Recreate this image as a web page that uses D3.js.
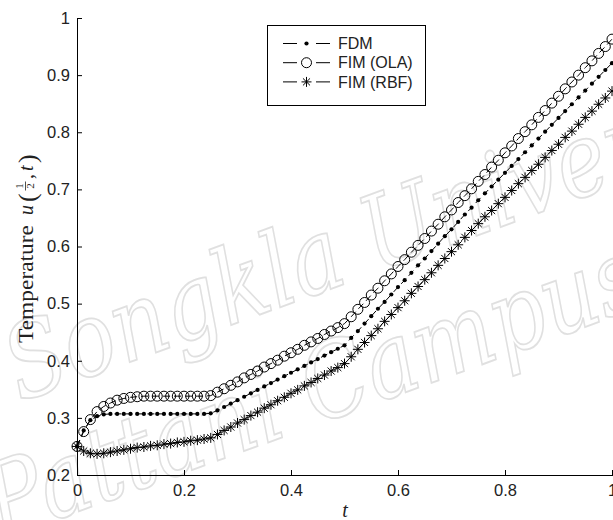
<!DOCTYPE html>
<html>
<head>
<meta charset="utf-8">
<script src="https://cdn.jsdelivr.net/npm/d3@7/dist/d3.min.js"></script>
<style>
  html, body { margin: 0; padding: 0; background: #fff; }
  svg { display: block; }
</style>
</head>
<body>
<svg id="chart" width="613" height="520"></svg>
<script>
// Time grid t (step 0.0125)
const times = [
  0.0000, 0.0125, 0.0250, 0.0375, 0.0500, 0.0625, 0.0750, 0.0875, 0.1000, 0.1125,
  0.1250, 0.1375, 0.1500, 0.1625, 0.1750, 0.1875, 0.2000, 0.2125, 0.2250, 0.2375,
  0.2500, 0.2625, 0.2750, 0.2875, 0.3000, 0.3125, 0.3250, 0.3375, 0.3500, 0.3625,
  0.3750, 0.3875, 0.4000, 0.4125, 0.4250, 0.4375, 0.4500, 0.4625, 0.4750, 0.4875,
  0.5000, 0.5125, 0.5250, 0.5375, 0.5500, 0.5625, 0.5750, 0.5875, 0.6000, 0.6125,
  0.6250, 0.6375, 0.6500, 0.6625, 0.6750, 0.6875, 0.7000, 0.7125, 0.7250, 0.7375,
  0.7500, 0.7625, 0.7750, 0.7875, 0.8000, 0.8125, 0.8250, 0.8375, 0.8500, 0.8625,
  0.8750, 0.8875, 0.9000, 0.9125, 0.9250, 0.9375, 0.9500, 0.9625, 0.9750, 0.9875,
  1.0000
];

// Temperature u(1/2, t) — finite difference method
const fdm = [
  0.250, 0.278, 0.296, 0.303, 0.306, 0.307, 0.307, 0.307, 0.307, 0.307,
  0.307, 0.307, 0.307, 0.307, 0.307, 0.307, 0.307, 0.307, 0.307, 0.307,
  0.308, 0.313, 0.319, 0.325, 0.331, 0.337, 0.343, 0.349, 0.355, 0.361,
  0.367, 0.373, 0.379, 0.385, 0.391, 0.397, 0.403, 0.409, 0.415, 0.421,
  0.427, 0.440, 0.452, 0.465, 0.478, 0.491, 0.503, 0.516, 0.529, 0.541,
  0.554, 0.567, 0.579, 0.592, 0.605, 0.618, 0.630, 0.643, 0.656, 0.668,
  0.681, 0.693, 0.705, 0.717, 0.729, 0.741, 0.753, 0.765, 0.777, 0.789,
  0.801, 0.813, 0.825, 0.837, 0.849, 0.861, 0.873, 0.885, 0.897, 0.909,
  0.921
];

// Fundamental integration method, OLA variant
const fimOla = [
  0.250, 0.276, 0.297, 0.311, 0.320, 0.326, 0.331, 0.334, 0.336, 0.337,
  0.338, 0.338, 0.338, 0.338, 0.338, 0.338, 0.338, 0.338, 0.338, 0.338,
  0.339, 0.345, 0.351, 0.357, 0.363, 0.370, 0.376, 0.382, 0.389, 0.395,
  0.401, 0.408, 0.414, 0.420, 0.427, 0.433, 0.439, 0.446, 0.452, 0.458,
  0.465, 0.477, 0.490, 0.502, 0.515, 0.527, 0.540, 0.552, 0.565, 0.577,
  0.590, 0.602, 0.614, 0.627, 0.639, 0.652, 0.664, 0.677, 0.689, 0.701,
  0.714, 0.726, 0.739, 0.751, 0.764, 0.776, 0.789, 0.801, 0.813, 0.826,
  0.838, 0.851, 0.863, 0.876, 0.888, 0.900, 0.913, 0.925, 0.938, 0.950,
  0.963
];

// Fundamental integration method, RBF variant
const fimRbf = [
  0.250, 0.242, 0.238, 0.237, 0.238, 0.240, 0.242, 0.244, 0.246, 0.248,
  0.249, 0.251, 0.252, 0.254, 0.255, 0.257, 0.258, 0.260, 0.261, 0.263,
  0.265, 0.271, 0.278, 0.284, 0.291, 0.297, 0.304, 0.310, 0.317, 0.323,
  0.330, 0.336, 0.343, 0.349, 0.356, 0.362, 0.369, 0.375, 0.382, 0.388,
  0.395, 0.407, 0.420, 0.432, 0.444, 0.456, 0.469, 0.481, 0.493, 0.505,
  0.518, 0.530, 0.542, 0.554, 0.567, 0.579, 0.591, 0.603, 0.616, 0.628,
  0.640, 0.652, 0.663, 0.675, 0.686, 0.698, 0.710, 0.721, 0.733, 0.744,
  0.756, 0.768, 0.779, 0.791, 0.802, 0.814, 0.826, 0.837, 0.849, 0.860,
  0.872
];

const seriesNames = ["FDM", "FIM (OLA)", "FIM (RBF)"];
const seriesMarkers = ["dot", "circle", "star"];
const xTicks = [0, 0.2, 0.4, 0.6, 0.8, 1];
const xTickLabels = ["0", "0.2", "0.4", "0.6", "0.8", "1"];
const yTicks = [0.2, 0.3, 0.4, 0.5, 0.6, 0.7, 0.8, 0.9, 1];
const yTickLabels = ["0.2", "0.3", "0.4", "0.5", "0.6", "0.7", "0.8", "0.9", "1"];

const svg = d3.select("#chart");
const x = d3.scaleLinear().domain([0, 1]).range([77, 612]);
const y = d3.scaleLinear().domain([0.2, 1]).range([475, 18]);

// Faint institutional watermark behind the plot
const wm = svg.append("g")
  .attr("fill", "none")
  .attr("stroke", "#e0e0e0")
  .attr("stroke-width", 1.5)
  .attr("font-family", "DejaVu Serif")
  .attr("font-style", "italic")
  .attr("font-size", 86);
wm.append("text").attr("transform", "translate(20,402) rotate(-20) scale(1,1.2)").text("Songkla University");
wm.append("text").attr("transform", "translate(0,540) rotate(-20) scale(1,1.2)").text("Pattani Campus");

// Axes (ticks pointing inward, no box)
const font = "Liberation Sans, Arial, sans-serif";
const gx = svg.append("g").attr("transform", "translate(0,475)")
  .call(d3.axisBottom(x).tickValues(xTicks).tickFormat((d, i) => xTickLabels[i])
    .tickSizeInner(-5).tickSizeOuter(0).tickPadding(9));
gx.select(".domain").attr("d", "M77,0.5H613");
const gy = svg.append("g").attr("transform", "translate(77,0)")
  .call(d3.axisLeft(y).tickValues(yTicks).tickFormat((d, i) => yTickLabels[i])
    .tickSizeInner(-5).tickSizeOuter(0).tickPadding(7));
[gx, gy].forEach(g => {
  g.selectAll("path, line").attr("stroke", "#000").attr("stroke-width", 1);
  g.selectAll("text").attr("font-family", font).attr("font-size", 16.5).attr("fill", "#222");
});

// Marker drawing helpers
function drawMarker(sel, kind) {
  if (kind === "dot") {
    sel.append("circle").attr("r", 2.1).attr("fill", "#000");
  } else if (kind === "circle") {
    sel.append("circle").attr("r", 5).attr("fill", "none").attr("stroke", "#000").attr("stroke-width", 1);
  } else {
    const r = 5, d = r * 0.7071;
    sel.append("path")
      .attr("d", `M${-r},0L${r},0M0,${-r}L0,${r}M${-d},${-d}L${d},${d}M${-d},${d}L${d},${-d}`)
      .attr("stroke", "#000").attr("stroke-width", 1).attr("fill", "none");
  }
}

const allSeries = [fdm, fimOla, fimRbf];
const line = d3.line().x(d => x(d[0])).y(d => y(d[1]));
const plot = svg.append("g");
allSeries.forEach((vals, k) => {
  const pts = times.map((t, i) => [t, vals[i]]);
  plot.append("path").datum(pts)
    .attr("d", line)
    .attr("fill", "none").attr("stroke", "#000").attr("stroke-width", 1)
    .attr("stroke-dasharray", "7,4");
  plot.append("g").selectAll("g").data(pts).join("g")
    .attr("transform", d => `translate(${x(d[0])},${y(d[1])})`)
    .each(function () { drawMarker(d3.select(this), seriesMarkers[k]); });
});

// Legend
const lg = svg.append("g");
lg.append("rect").attr("x", 267.5).attr("y", 25.5).attr("width", 158).attr("height", 80)
  .attr("fill", "#fff").attr("stroke", "#000").attr("stroke-width", 1);
seriesNames.forEach((name, k) => {
  const ly = 43.5 + k * 19.2;
  lg.append("path").attr("d", `M283,${ly}L330,${ly}`)
    .attr("stroke", "#000").attr("stroke-width", 1).attr("stroke-dasharray", "14,19");
  drawMarker(lg.append("g").attr("transform", `translate(306.5,${ly})`), seriesMarkers[k]);
  lg.append("text").attr("x", 338).attr("y", ly).attr("dy", "0.36em")
    .attr("font-family", font).attr("font-size", 16).attr("fill", "#222").text(name);
});

// X axis title
svg.append("text").attr("x", 345).attr("y", 517).attr("text-anchor", "middle")
  .attr("font-family", "Liberation Serif, serif").attr("font-style", "italic")
  .attr("font-size", 20).attr("fill", "#222").text("t");

// Y axis title: Temperature u(1/2, t), set rotated with a stacked fraction
const yl = svg.append("g").attr("transform", "translate(33,343) rotate(-90)")
  .attr("font-family", "Liberation Serif, serif").attr("fill", "#222");
yl.append("text").attr("x", 0).attr("y", 0).attr("font-size", 21)
  .attr("textLength", 118).attr("lengthAdjust", "spacingAndGlyphs").text("Temperature");
yl.append("text").attr("x", 128).attr("y", 0).attr("font-size", 20).attr("font-style", "italic").text("u");
yl.append("text").attr("x", 141).attr("y", 3).attr("font-size", 26).text("(");
yl.append("text").attr("x", 157).attr("y", -10).attr("font-size", 11).attr("text-anchor", "middle").text("1");
yl.append("line").attr("x1", 152.5).attr("x2", 161.5).attr("y1", -7.5).attr("y2", -7.5)
  .attr("stroke", "#222").attr("stroke-width", 0.8);
yl.append("text").attr("x", 157).attr("y", 1).attr("font-size", 11).attr("text-anchor", "middle").text("2");
yl.append("text").attr("x", 164).attr("y", 0).attr("font-size", 20).text(",");
yl.append("text").attr("x", 172).attr("y", 0).attr("font-size", 20).attr("font-style", "italic").text("t");
yl.append("text").attr("x", 180).attr("y", 3).attr("font-size", 26).text(")");
</script>
</body>
</html>
